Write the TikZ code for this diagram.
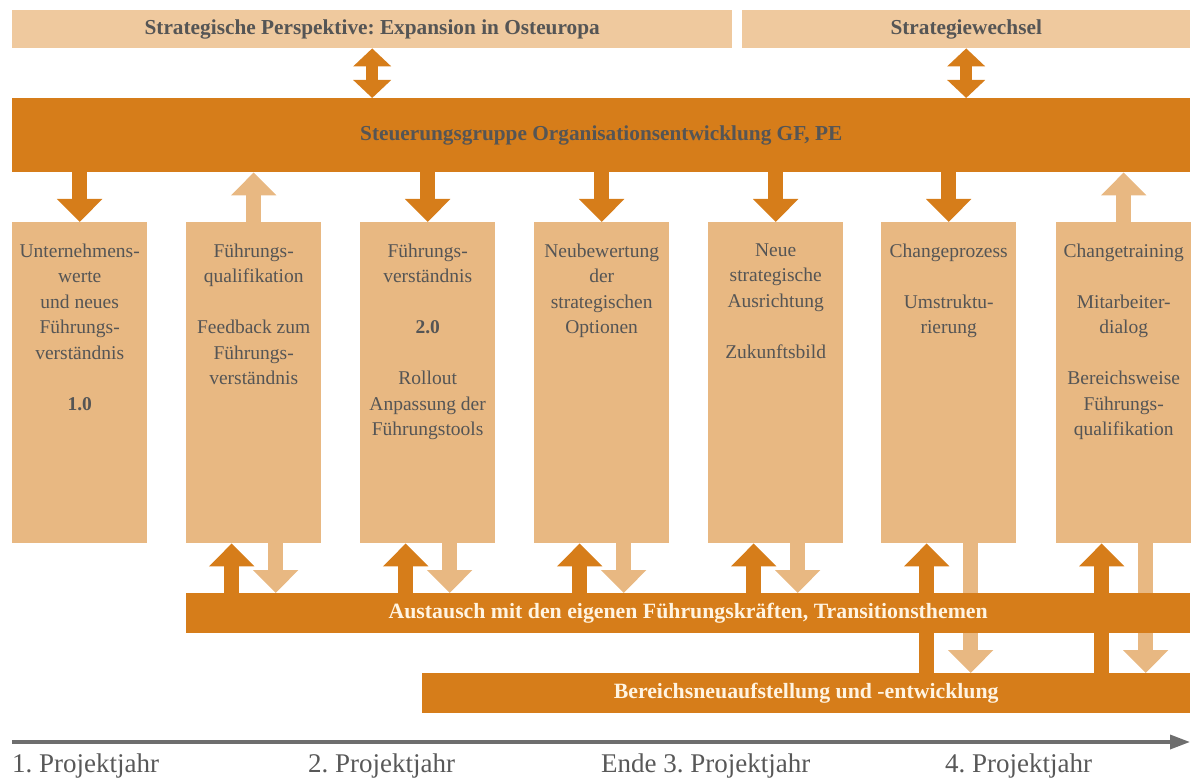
\documentclass[tikz,border=0pt]{standalone}
\usepackage{fontspec}
\setmainfont{Liberation Serif}
\usepackage{tikz}
\usetikzlibrary{arrows.meta,positioning,backgrounds}
\definecolor{ordark}{RGB}{214,125,26}
\definecolor{orlight}{RGB}{232,184,130}
\definecolor{orpale}{RGB}{239,201,158}
\definecolor{txgray}{RGB}{85,85,85}
\definecolor{txcream}{RGB}{255,244,226}
\definecolor{lngray}{RGB}{110,110,110}
\tikzstyle{banner} = [fill=orpale, anchor=north west, inner sep=0pt, minimum height=38pt, text=txgray, font=\fontsize{21.3}{24}\selectfont\bfseries]
\tikzstyle{bar} = [fill=ordark, anchor=north west, inner sep=0pt, minimum height=40pt, text=txcream, font=\fontsize{21.8}{24}\selectfont\bfseries]
\tikzstyle{phase} = [fill=orlight, anchor=north west, inner sep=0pt, minimum width=135pt, minimum height=321pt]
\tikzstyle{phasetext} = [anchor=north, inner sep=0pt, align=center, text=txgray, font=\fontsize{19.5}{25.5}\selectfont]
\tikzstyle{darkarrow} = [line width=15pt, draw=ordark, -{Triangle[width=44pt,length=23pt]}]
\tikzstyle{lightarrow} = [line width=15pt, draw=orlight, -{Triangle[width=44pt,length=23pt]}]
\tikzstyle{twoway} = [line width=12pt, draw=ordark, {Triangle[width=37pt,length=18pt]}-{Triangle[width=37pt,length=18pt]}]
\tikzstyle{timeline} = [line width=3.5pt, draw=lngray, -{Triangle[width=14pt,length=20pt]}]
\tikzstyle{yearlabel} = [anchor=base west, inner sep=0pt, text=lngray!80!black, font=\fontsize{27}{30}\selectfont]

\begin{document}
\frenchspacing
\begin{tikzpicture}[x=1pt, y=-1pt]
    \useasboundingbox (0,0) rectangle (1192,778);

    % Strategy banners
    \node[banner, minimum width=720pt] (b1) at (12,10) {Strategische Perspektive: Expansion in Osteuropa};
    \node[banner, minimum width=448pt] (b2) at (742,10) {Strategiewechsel};

    % Steering group
    \node[bar, minimum width=1178pt, minimum height=74pt, text=txgray, font=\fontsize{21.3}{24}\selectfont\bfseries] (sg) at (12,98) {Steuerungsgruppe Organisationsentwicklung GF, PE};

    % Phases
    \node[phase] (p1) at (12,222) {};
    \node[phase] (p2) at (186,222) {};
    \node[phase] (p3) at (360,222) {};
    \node[phase] (p4) at (534,222) {};
    \node[phase] (p5) at (708,222) {};
    \node[phase] (p6) at (881,222) {};
    \node[phase] (p7) at (1056,222) {};

    \node[phasetext] (t1) at ([yshift=-21.5pt]p1.north) {Unternehmens-\\werte\\und neues\\Führungs-\\verständnis\\[25.5pt]\textbf{1.0}};
    \node[phasetext] (t2) at ([yshift=-21.5pt]p2.north) {Führungs-\\qualifikation\\[25.5pt]Feedback zum\\Führungs-\\verständnis};
    \node[phasetext] (t3) at ([yshift=-21.5pt]p3.north) {Führungs-\\verständnis\\[25.5pt]\textbf{2.0}\\[25.5pt]Rollout\\Anpassung der\\Führungstools};
    \node[phasetext] (t4) at ([yshift=-21.5pt]p4.north) {Neubewertung\\der\\strategischen\\Optionen};
    \node[phasetext] (t5) at ([yshift=-21.5pt]p5.north) {Neue\\strategische\\Ausrichtung\\[25.5pt]Zukunftsbild};
    \node[phasetext] (t6) at ([yshift=-21.5pt]p6.north) {Changeprozess\\[25.5pt]Umstruktu-\\rierung};
    \node[phasetext] (t7) at ([yshift=-21.5pt]p7.north) {Changetraining\\[25.5pt]Mitarbeiter-\\dialog\\[25.5pt]Bereichsweise\\Führungs-\\qualifikation};

    % Exchange bars
    \node[bar, minimum width=1004pt] (ex) at (186,593) {Austausch mit den eigenen Führungskräften, Transitionsthemen};
    \node[bar, minimum width=768pt] (re) at (422,673) {Bereichsneuaufstellung und -entwicklung};

    % Arrows
    \begin{scope}[on background layer]
        \draw[twoway] (b1.south) -- (b1.south |- sg.north);
        \draw[twoway] (b2.south) -- (b2.south |- sg.north);

        \foreach \p in {p1,p3,p4,p5,p6}
            \draw[darkarrow] (\p.north |- sg.south) -- (\p.north);
        \foreach \p in {p2,p7}
            \draw[lightarrow] (\p.north) -- (\p.north |- sg.south);

        \foreach \p/\t in {p2/ex,p3/ex,p4/ex,p5/ex,p6/re,p7/re} {
            \coordinate (\p-up) at ([xshift=-22pt]\p.south);
            \coordinate (\p-dn) at ([xshift=22pt]\p.south);
            \draw[darkarrow] (\p-up |- \t.north) -- (\p-up);
            \draw[lightarrow] (\p-dn) -- (\p-dn |- \t.north);
        }
    \end{scope}

    % Timeline
    \coordinate (s0) at (12,742);
    \coordinate (s1) at (1190,742);
    \draw[timeline] (s0) -- (s1);
    \node[yearlabel] (y1) at (12,772) {1. Projektjahr};
    \node[yearlabel] (y2) at (308,772) {2. Projektjahr};
    \node[yearlabel] (y3) at (601,772) {Ende 3. Projektjahr};
    \node[yearlabel] (y4) at (945,772) {4. Projektjahr};
\end{tikzpicture}
\end{document}
